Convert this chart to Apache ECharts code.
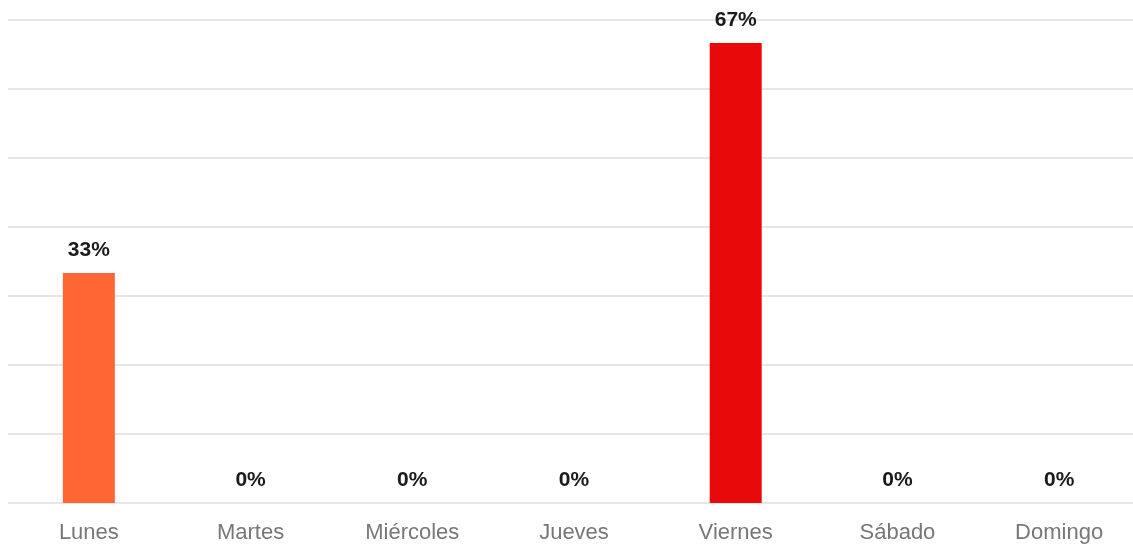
<!DOCTYPE html>
<html>
<head>
<meta charset="utf-8">
<script src="https://cdn.jsdelivr.net/npm/echarts@6/dist/echarts.min.js"></script>
<style>html,body{margin:0;padding:0;background:#fff;overflow:hidden;}#c{width:1133px;height:548px;}</style>
</head>
<body>
<div id="c"></div>
<script>
const categories = ['Lunes', 'Martes', 'Miércoles', 'Jueves', 'Viernes', 'Sábado', 'Domingo'];
const values = [33.33, 0, 0, 0, 66.67, 0, 0];
const barColors = ['#FF6633', '#FF6633', '#FF6633', '#FF6633', '#E80A0A', '#FF6633', '#FF6633'];

const chart = echarts.init(document.getElementById('c'));
chart.setOption({
  animation: false,
  grid: { left: 8, top: 20, width: 1132, bottom: 45, containLabel: false, outerBoundsMode: 'none' },
  xAxis: {
    type: 'category',
    data: categories,
    axisLine: { show: false },
    axisTick: { show: false },
    axisLabel: { color: '#777777', fontSize: 22, fontFamily: 'Liberation Sans', margin: 19 }
  },
  yAxis: {
    type: 'value',
    min: 0, max: 70, interval: 10,
    axisLabel: { show: false },
    axisLine: { show: false },
    axisTick: { show: false },
    splitLine: { lineStyle: { color: '#dedede', width: 1.5 } }
  },
  series: [{
    type: 'bar',
    barWidth: 52,
    data: values.map((v, i) => ({ value: v, itemStyle: { color: barColors[i] } })),
    label: {
      show: true,
      position: 'top',
      distance: 12,
      formatter: p => Math.round(p.value) + '%',
      color: '#1a1a1a',
      fontSize: 21,
      fontWeight: 'bold',
      fontFamily: 'Liberation Sans'
    }
  }]
});
</script>
</body>
</html>
